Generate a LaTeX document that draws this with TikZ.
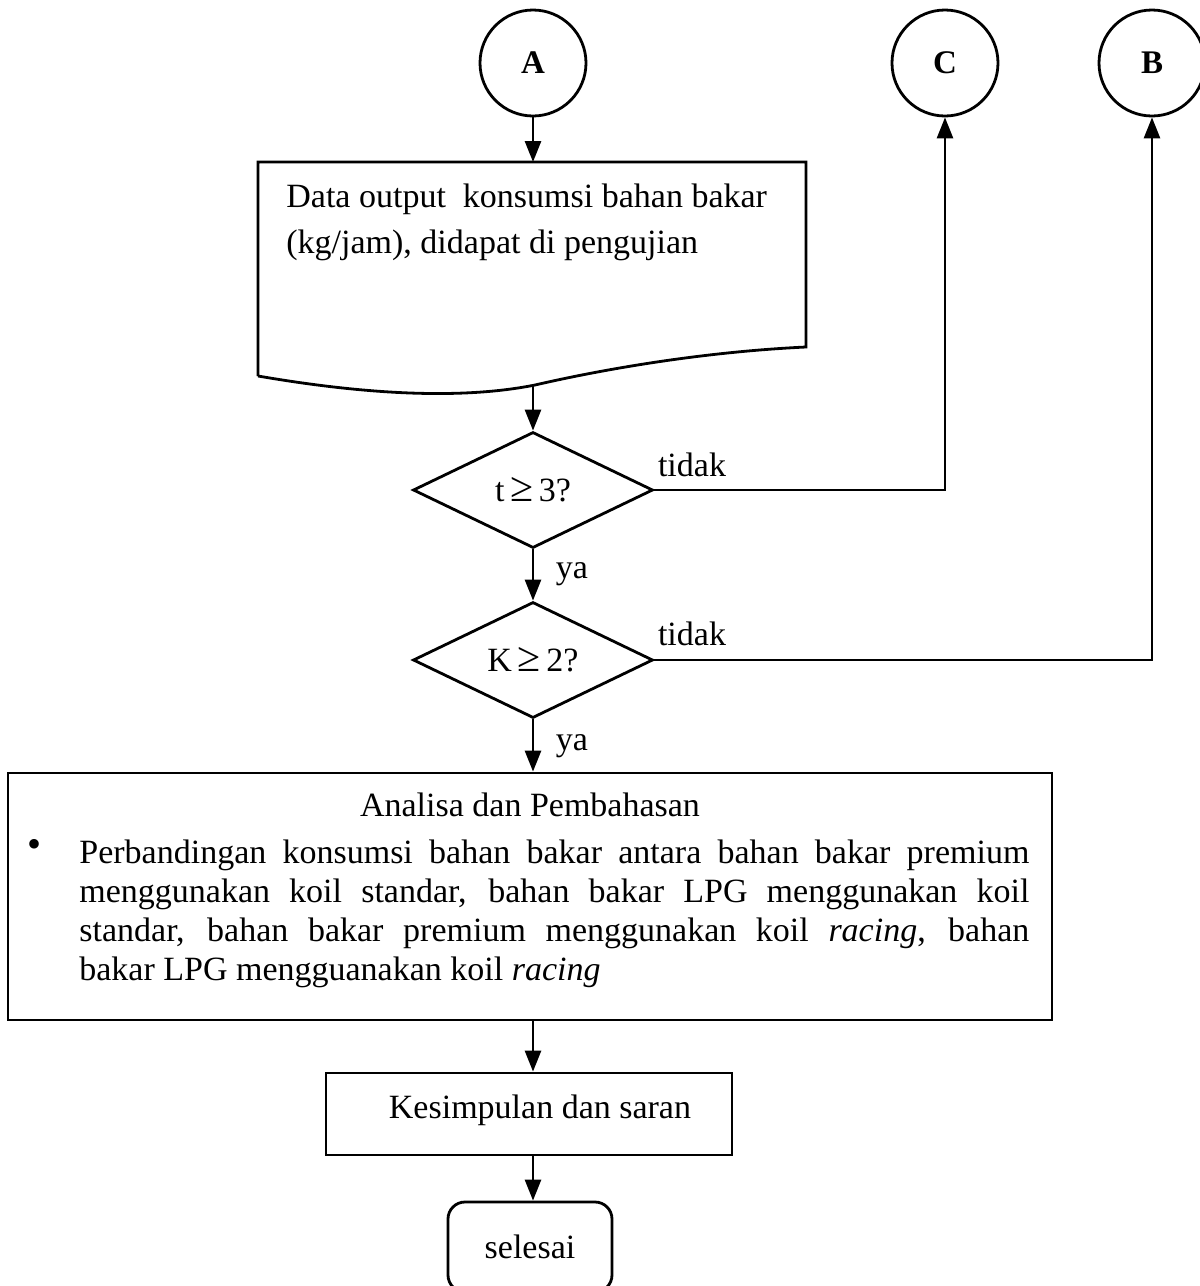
\documentclass[tikz,border=0pt]{standalone}
\usepackage{fontspec}
\setmainfont{Liberation Serif}
\usetikzlibrary{arrows.meta,shapes.geometric,calc}

% one justified line of a given width
\newcommand{\fullline}[1]{\hbox to 950pt{\spaceskip=.25em plus 20em\relax #1}}
% a slightly larger "greater or equal" sign
\newcommand{\bigge}{{\fontsize{42}{42}\selectfont ≥}}

\begin{document}
\begin{tikzpicture}[x=1pt,y=-1pt,line width=2.8pt,
  arr/.style={-{Triangle[length=21pt,width=16pt]}},
  conn/.style={draw,circle,minimum size=106pt,inner sep=0pt,
    font=\fontsize{33}{35}\selectfont\bfseries},
  decision/.style={draw,diamond,minimum width=240pt,minimum height=116pt,
    inner sep=0pt},
  procbox/.style={draw,rectangle,inner sep=0pt},
  lbl/.style={inner sep=0pt},
  font=\fontsize{34}{46}\selectfont]

\useasboundingbox (0,0) rectangle (1200,1286);

% off-page connectors
\node[conn] (A) at (533,63) {A};
\node[conn] (C) at (945,63) {C};
\node[conn] (B) at (1152,63) {B};

% document shape with a wavy lower edge
\draw (258,376) -- (258,162) -- (806,162) -- (806,347)
  .. controls (700,352) and (600,370) .. (535,385)
  .. controls (470,398) and (380,397) .. (258,376);
\coordinate (docT) at (533,162);
\coordinate (docB) at (533,385);
\node[lbl,anchor=north west,align=left] (doctext) at (285,183)
  {Data output\ \ konsumsi bahan bakar\\(kg/jam), didapat di pengujian};

% decisions
\node[decision] (d1) at (533,490) {t\,\bigge\,3?};
\node[decision] (d2) at (533,660) {K\,\bigge\,2?};

% analysis box
\node[procbox,minimum width=1044pt,minimum height=247pt] (ana) at (530,896.5) {};
\node[lbl] (anatitle) at (530,805) {Analisa dan Pembahasan};
\node[lbl] (bullet) at (35,848) {\fontsize{40}{40}\selectfont\textbullet};
\node[lbl,anchor=north west] (anatext) at (78,838)
  {\fontsize{34}{39}\selectfont
   \vbox{\hsize=950pt\baselineskip=39pt
   \fullline{Perbandingan konsumsi bahan bakar antara bahan bakar premium}
   \fullline{menggunakan koil standar, bahan bakar LPG menggunakan koil}
   \fullline{standar, bahan bakar premium menggunakan koil \textit{racing}, bahan}
   \hbox{bakar LPG mengguanakan koil \textit{racing}}}};

% conclusion and terminator
\node[procbox,minimum width=406pt,minimum height=82pt] (kes) at (529,1114) {};
\node[lbl] (kestext) at (540,1110) {Kesimpulan dan saran};
\node[draw,rounded corners=17pt,minimum width=164pt,minimum height=90pt,
  inner sep=0pt] (stop) at (530,1247) {selesai};

% flow lines
\draw[arr] (A) -- (docT);
\draw[arr] (docB) -- (d1.north);
\draw[arr] (d1.south) -- (d2.north);
\draw[arr] (d2.south) -- (d2.south |- ana.north);
\draw[arr] (ana.south -| d2.south) -- (kes.north -| d2.south);
\draw[arr] (kes.south -| d2.south) -- (stop.north -| d2.south);
\draw[arr] (d1.east) -| (C.south);
\draw[arr] (d2.east) -| (B.south);

% branch labels
\node[lbl] (no1) at (692,465) {tidak};
\node[lbl] (no2) at (692,634) {tidak};
\node[lbl] (yes1) at (572,574) {ya};
\node[lbl] (yes2) at (572,746) {ya};
\end{tikzpicture}
\end{document}
